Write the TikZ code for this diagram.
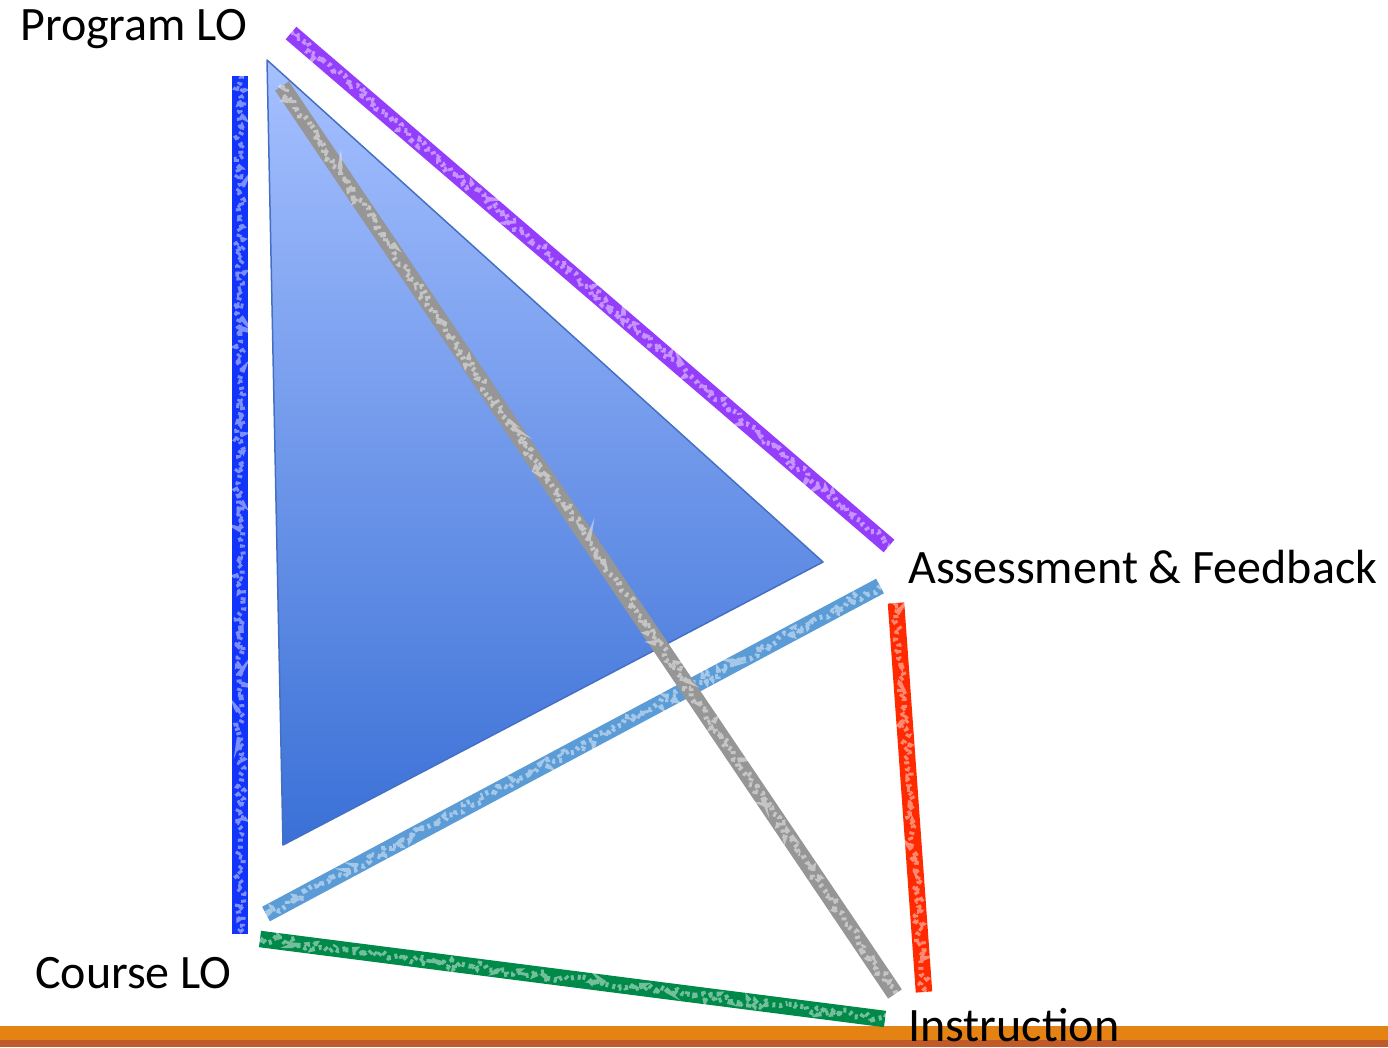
\documentclass[tikz,border=0pt]{standalone}
\usepackage{fontspec}
\setmainfont{Carlito}
\usepackage{xcolor}
\usepackage{tikz}
\usetikzlibrary{
  positioning,
  calc,
  decorations.pathmorphing
}
\definecolor{progline}{RGB}{148,62,252}
\definecolor{courseline}{RGB}{18,52,250}
\definecolor{diagline}{RGB}{150,150,150}
\definecolor{assessline}{RGB}{92,156,214}
\definecolor{instrline}{RGB}{255,42,0}
\definecolor{bottomline}{RGB}{0,138,74}
\definecolor{tritop}{RGB}{166,192,255}
\definecolor{tribot}{RGB}{58,112,214}
\definecolor{triedge}{RGB}{68,112,196}
\definecolor{barorange}{RGB}{228,130,20}
\definecolor{barbrown}{RGB}{192,90,40}

\begin{document}
\begin{tikzpicture}[
  x=1pt,y=-1pt,
  lbl/.style={anchor=base west,inner sep=0pt,font=\fontsize{48}{56}\selectfont},
  crayon/.style={draw=#1,line width=16.5pt,
    postaction={draw=white,opacity=0.45,line width=5pt,dash pattern=on 3pt off 4pt,
      decorate,decoration={random steps,segment length=3pt,amplitude=4pt}}}
]
\useasboundingbox (0,0) rectangle (1388,1047);

% bar at the foot
\fill[barorange] (0,1026) rectangle (1388,1040);
\fill[barbrown] (0,1040) rectangle (1388,1047);

% shaded triangle
\coordinate (ta) at (267,60);
\coordinate (tb) at (823,562);
\coordinate (tc) at (283,845);
\shade[top color=tritop,bottom color=tribot] (ta) -- (tb) -- (tc) -- cycle;
\draw[triedge,line width=1.5pt,line join=round] (ta) -- (tb) -- (tc) -- cycle;

% labels
\node[lbl] (program) at (20,40) {Program LO};
\node[lbl] (assess) at (908,583) {Assessment \& Feedback};
\node[lbl] (course) at (35,988) {Course LO};
\node[lbl] (instr) at (908,1041) {Instruction};

% line ends
\coordinate (p1) at (291,33);
\coordinate (p2) at (889,546);
\coordinate (c1) at (240,76);
\coordinate (c2) at (240,934);
\coordinate (a1) at (880,586);
\coordinate (a2) at (266,914);
\coordinate (r1) at (896,603);
\coordinate (r2) at (924,992);
\coordinate (g1) at (260,939);
\coordinate (g2) at (885,1019);
\coordinate (d1) at (282,86);
\coordinate (d2) at (895,994);

\draw[crayon=courseline] (c1) -- (c2);
\draw[crayon=progline] (p1) -- (p2);
\draw[crayon=assessline] (a1) -- (a2);
\draw[crayon=instrline] (r1) -- (r2);
\draw[crayon=bottomline] (g1) -- (g2);
\draw[crayon=diagline] (d1) -- (d2);
\end{tikzpicture}
\end{document}
